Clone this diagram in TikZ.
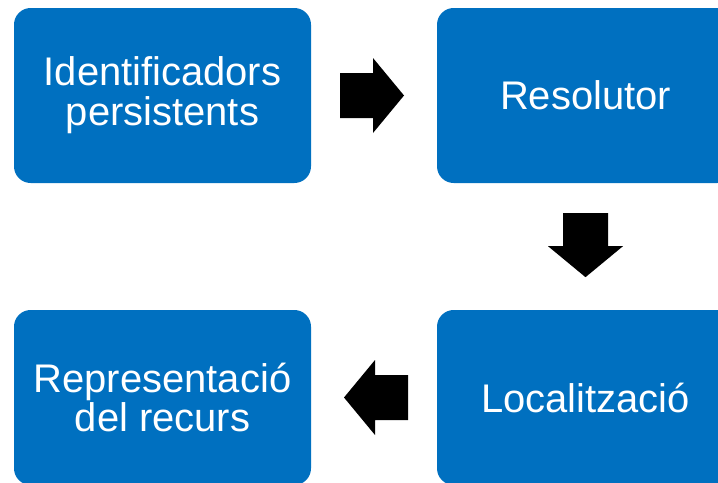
\documentclass[tikz,border=0pt]{standalone}
\usepackage{fontspec}
\setmainfont{Liberation Sans}
\usetikzlibrary{calc}
\usetikzlibrary{positioning}

\definecolor{boxblue}{HTML}{0070C0}

\tikzset{
	stage/.style={fill=boxblue, rounded corners=0.5cm, minimum width=8.91cm, minimum height=5.25cm,
		inner sep=0pt, text=white, align=center, font=\fontsize{34.1}{34.1}\selectfont},
	fatarrow/.pic={\fill[black] (-0.96,-0.675) -- (0.03,-0.675) -- (0.03,-1.125) -- (0.96,0)
		-- (0.03,1.125) -- (0.03,0.675) -- (-0.96,0.675) -- cycle;}
}

\begin{document}
\begin{tikzpicture}
		\useasboundingbox (0,0) rectangle (21.54,-14.46);
		\clip (0,0) rectangle (21.54,-14.46);

		\node[stage] (ident) at (4.875,-2.865) {Identificadors\\persistents};
		\node[stage] (resol) at (17.565,-2.865) {Resolutor};
		\node[stage] (local) at (17.565,-11.925) {Localització};
		\node[stage] (repr) at (4.875,-11.925) {Representació\\del recurs};

		% block arrows between the stages
		\pic at ($(ident.east)!0.5!(resol.west)+(-0.06,0)$) {fatarrow};
		\pic[rotate=-90] at ($(resol.south)!0.5!(local.north)+(0,0.04)$) {fatarrow};
		\pic[rotate=180] at ($(local.west)!0.5!(repr.east)+(0.06,0)$) {fatarrow};
	\end{tikzpicture}
\end{document}
